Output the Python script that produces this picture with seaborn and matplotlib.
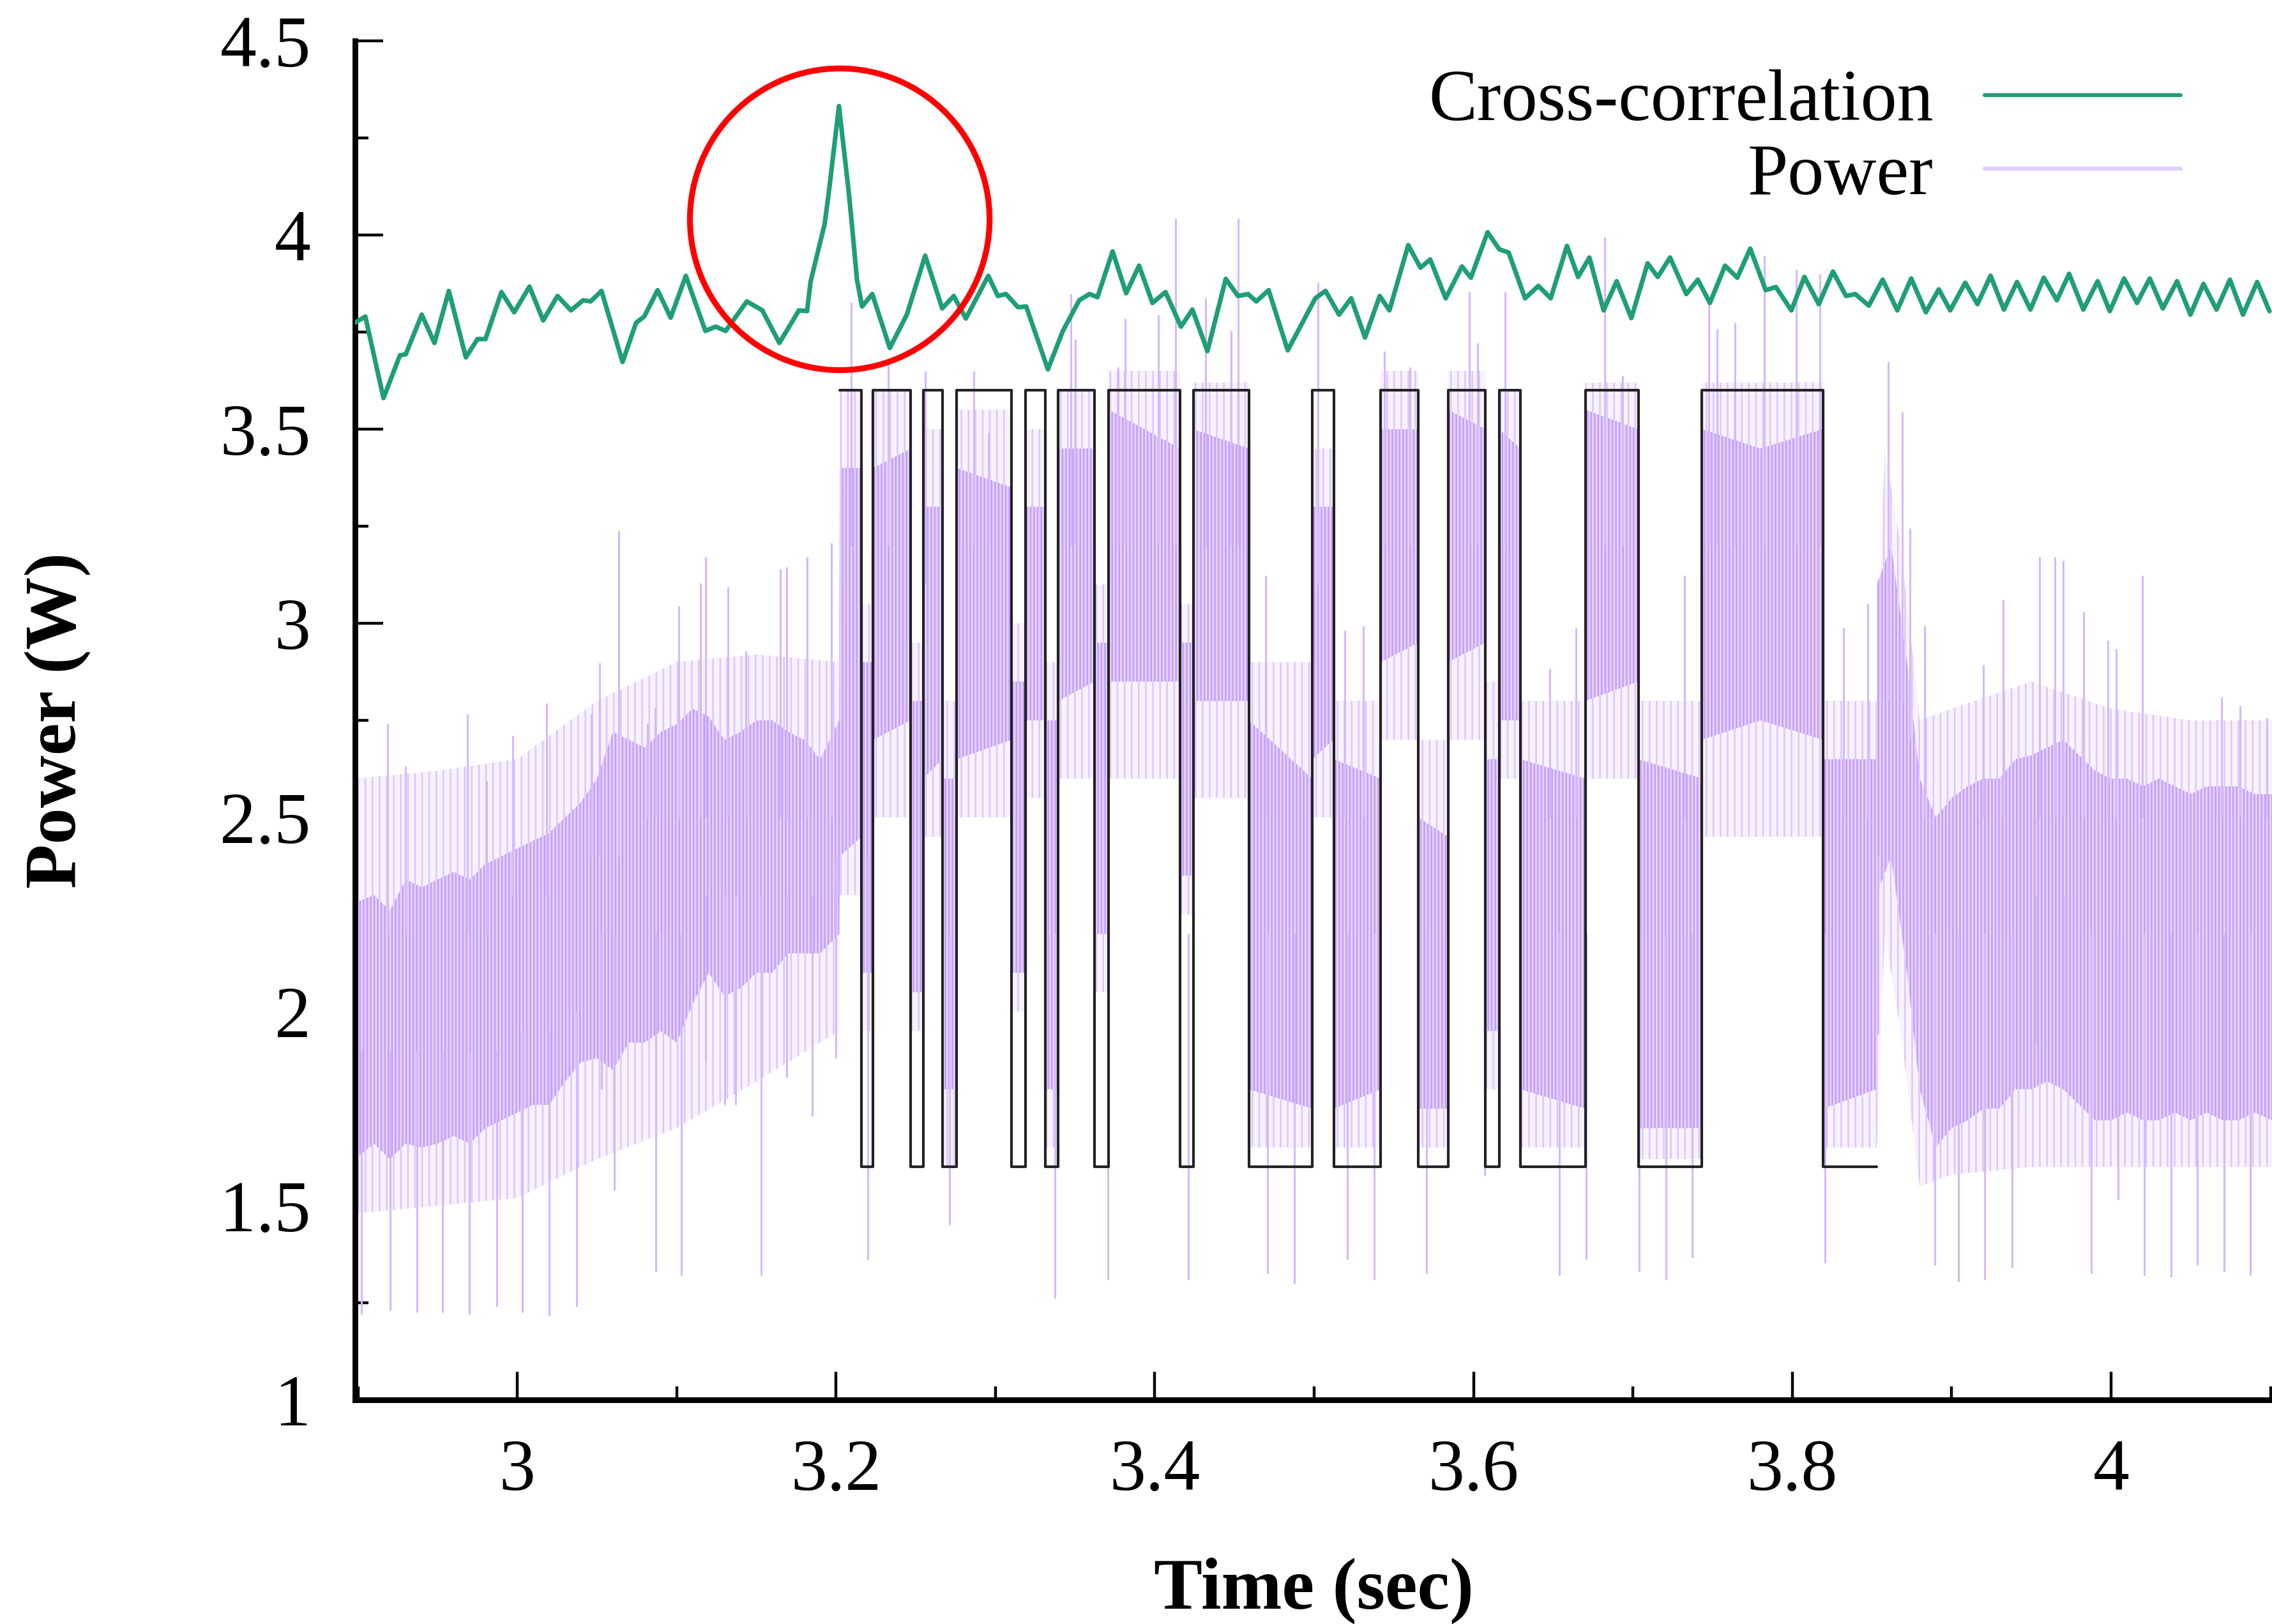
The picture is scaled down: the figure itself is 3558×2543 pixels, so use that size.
import numpy as np
import pandas as pd
import matplotlib
matplotlib.use("Agg")
import matplotlib.pyplot as plt
import seaborn as sns
from matplotlib.lines import Line2D
from matplotlib.patches import Ellipse
from matplotlib.ticker import FixedLocator, MultipleLocator

# ---------------- data ----------------
# Cross-correlation curve (time, value)
xc_t = [2.8985, 2.9046, 2.9160, 2.9263, 2.9300, 2.9400, 2.9480, 2.9570, 2.9677, 2.9750,
        2.9800, 2.9900, 2.9980, 3.0076, 3.0162, 3.0252, 3.0336, 3.0413, 3.0460, 3.0528,
        3.0660, 3.0745, 3.0796, 3.0880, 3.0962, 3.1057, 3.1180, 3.1244, 3.1307, 3.1440,
        3.1537, 3.1644, 3.1767, 3.1818, 3.1840, 3.1928, 3.1955, 3.2018, 3.2079, 3.2099,
        3.2131, 3.2163, 3.2227, 3.2337,
        3.2444, 3.2559, 3.2666, 3.2738, 3.2814, 3.2955, 3.3015, 3.3066, 3.3142, 3.3193,
        3.3329, 3.3423, 3.3526, 3.3590, 3.3640, 3.3735, 3.3820, 3.3901, 3.3985, 3.4067,
        3.4164, 3.4236, 3.4330, 3.4445, 3.4522, 3.4585, 3.4637, 3.4714, 3.4834, 3.5007,
        3.5071, 3.5156, 3.5232, 3.5319, 3.5411, 3.5472, 3.5590, 3.5667, 3.5728, 3.5825,
        3.5927, 3.5983, 3.6088, 3.6162, 3.6220, 3.6323, 3.6407, 3.6484, 3.6586, 3.6656,
        3.6727, 3.6816, 3.6898, 3.6990, 3.7092, 3.7156, 3.7233, 3.7335, 3.7407, 3.7483,
        3.7578, 3.7655, 3.7736, 3.7833, 3.7897, 3.7994, 3.8076, 3.8166, 3.8255, 3.8337,
        3.8395, 3.8480, 3.8567, 3.8659, 3.8746, 3.8838, 3.8919, 3.8991, 3.9085, 3.9162,
        3.9244, 3.9328, 3.9410, 3.9494, 3.9578, 3.9660, 3.9737, 3.9826, 3.9916, 3.9992,
        4.0082, 4.0163, 4.0243, 4.0325, 4.0414, 4.0498, 4.0580, 4.0662, 4.0746, 4.0828,
        4.0917, 4.0994]
xc_v = [3.775, 3.790, 3.580, 3.690, 3.693, 3.795, 3.722, 3.856, 3.685, 3.732,
        3.732, 3.853, 3.801, 3.867, 3.780, 3.843, 3.806, 3.832, 3.829, 3.856,
        3.673, 3.774, 3.790, 3.858, 3.787, 3.895, 3.753, 3.764, 3.753, 3.829,
        3.806, 3.722, 3.806, 3.804, 3.880, 4.028, 4.112, 4.332, 4.112, 4.028,
        3.885, 3.816, 3.848, 3.709,
        3.795, 3.947, 3.811, 3.843, 3.785, 3.895, 3.843, 3.848, 3.814, 3.816,
        3.654, 3.753, 3.832, 3.848, 3.840, 3.958, 3.850, 3.921, 3.825, 3.853,
        3.764, 3.808, 3.701, 3.887, 3.843, 3.848, 3.829, 3.858, 3.703, 3.837,
        3.856, 3.795, 3.837, 3.736, 3.843, 3.806, 3.974, 3.916, 3.937, 3.837,
        3.919, 3.890, 4.007, 3.963, 3.955, 3.837, 3.869, 3.837, 3.972, 3.892,
        3.942, 3.806, 3.881, 3.786, 3.927, 3.892, 3.942, 3.848, 3.885, 3.825,
        3.921, 3.890, 3.965, 3.858, 3.866, 3.806, 3.892, 3.822, 3.906, 3.843,
        3.848, 3.818, 3.885, 3.806, 3.888, 3.801, 3.860, 3.806, 3.877, 3.822,
        3.895, 3.808, 3.879, 3.808, 3.890, 3.832, 3.900, 3.808, 3.881, 3.804,
        3.888, 3.825, 3.888, 3.811, 3.881, 3.795, 3.874, 3.808, 3.885, 3.795,
        3.879, 3.804]

# Reference on/off signal (step edges and levels)
sq_t = [3.2023, 3.2158, 3.2232, 3.2468, 3.2546, 3.2668, 3.2756, 3.3100, 3.3190, 3.3313,
        3.3394, 3.3622, 3.3710, 3.4159, 3.4241, 3.4590, 3.4987, 3.5122, 3.5417, 3.5653,
        3.5840, 3.6074, 3.6160, 3.6293, 3.6701, 3.7034, 3.7432, 3.8193, 3.8530]
sq_v = [3.6, 1.6, 3.6, 1.6, 3.6, 1.6, 3.6, 1.6, 3.6, 1.6,
        3.6, 1.6, 3.6, 1.6, 3.6, 1.6, 3.6, 1.6, 3.6, 1.6,
        3.6, 1.6, 3.6, 1.6, 3.6, 1.6, 3.6, 1.6, 1.6]

# Power trace, sparse outer envelope (time, lower edge, upper edge)
outer_t = [2.8982, 2.950, 3.000, 3.050, 3.100, 3.150, 3.2020,
           3.2023, 3.2158, 3.2158, 3.2232, 3.2232, 3.2468, 3.2468, 3.2546, 3.2546, 3.2668,
           3.2668, 3.2756, 3.2756, 3.3100, 3.3100, 3.3190, 3.3190, 3.3313, 3.3313, 3.3394,
           3.3394, 3.3622, 3.3622, 3.3710, 3.3710, 3.4159, 3.4159, 3.4241, 3.4241, 3.4590,
           3.4590, 3.4987, 3.4987, 3.5122, 3.5122, 3.5417, 3.5417, 3.5653, 3.5653, 3.5840,
           3.5840, 3.6074, 3.6074, 3.6160, 3.6160, 3.6293, 3.6293, 3.6701, 3.6701, 3.7034,
           3.7034, 3.7432, 3.7432, 3.8193, 3.8193, 3.8530,
           3.8580, 3.8680, 3.8800, 3.9000, 3.9500, 4.0000, 4.0500, 4.1010]
outer_lo = [1.48, 1.50, 1.52, 1.62, 1.70, 1.82, 1.95,
            2.30, 2.30, 1.95, 1.95, 2.50, 2.50, 1.95, 1.95, 2.45, 2.45,
            1.60, 1.60, 2.50, 2.50, 2.00, 2.00, 2.55, 2.55, 1.65, 1.65,
            2.60, 2.60, 2.05, 2.05, 2.60, 2.60, 2.25, 2.25, 2.55, 2.55,
            1.65, 1.65, 2.50, 2.50, 1.65, 1.65, 2.70, 2.70, 1.65, 1.65,
            2.70, 2.70, 1.80, 1.80, 2.60, 2.60, 1.65, 1.65, 2.60, 2.60,
            1.62, 1.62, 2.45, 2.45, 1.65, 1.65,
            2.20, 1.95, 1.55, 1.58, 1.60, 1.60, 1.60, 1.60]
outer_hi = [2.60, 2.62, 2.65, 2.80, 2.90, 2.92, 2.90,
            3.60, 3.60, 3.05, 3.05, 3.60, 3.60, 2.95, 2.95, 3.50, 3.50,
            2.80, 2.80, 3.55, 3.55, 3.00, 3.00, 3.50, 3.50, 2.90, 2.90,
            3.60, 3.60, 3.10, 3.10, 3.65, 3.65, 3.05, 3.05, 3.62, 3.62,
            2.90, 2.90, 3.45, 3.45, 2.80, 2.80, 3.65, 3.65, 2.70, 2.70,
            3.65, 3.65, 2.85, 2.85, 3.60, 3.60, 2.80, 2.80, 3.62, 3.62,
            2.80, 2.80, 3.62, 3.62, 2.80, 2.80,
            3.45, 3.20, 2.75, 2.78, 2.85, 2.78, 2.75, 2.75]

# Power trace, dense inner core (time, lower edge, upper edge)
inner_t = [2.8982, 2.910, 2.920, 2.930, 2.940, 2.950, 2.960, 2.970, 2.980, 2.990,
           3.000, 3.010, 3.020, 3.030, 3.040, 3.050, 3.060, 3.070, 3.080, 3.090,
           3.100, 3.110, 3.120, 3.130, 3.140, 3.150, 3.160, 3.170, 3.180, 3.190,
           3.2020,
           3.2023, 3.2158, 3.2158, 3.2232, 3.2232, 3.2468, 3.2468, 3.2546, 3.2546, 3.2668,
           3.2668, 3.2756, 3.2756, 3.3100, 3.3100, 3.3190, 3.3190, 3.3313, 3.3313, 3.3394,
           3.3394, 3.3622, 3.3622, 3.3710, 3.3710, 3.4159, 3.4159, 3.4241, 3.4241, 3.4590,
           3.4590, 3.4987, 3.4987, 3.5122, 3.5122, 3.5417, 3.5417, 3.5653, 3.5653, 3.5840,
           3.5840, 3.6074, 3.6074, 3.6160, 3.6160, 3.6293, 3.6293, 3.6701, 3.6701, 3.7034,
           3.7034, 3.7432, 3.7432, 3.7800, 3.8193, 3.8193, 3.8530, 3.8530, 3.8620, 3.8720,
           3.8800,
           3.890, 3.900, 3.910, 3.920, 3.930, 3.940, 3.950, 3.960, 3.970, 3.980,
           3.990, 4.000, 4.010, 4.020, 4.030, 4.040, 4.050, 4.060, 4.070, 4.080,
           4.090, 4.101]
inner_lo = [1.62, 1.66, 1.62, 1.66, 1.65, 1.66, 1.68, 1.66, 1.70, 1.72,
            1.74, 1.76, 1.76, 1.82, 1.87, 1.88, 1.85, 1.92, 1.92, 1.95,
            1.92, 2.02, 2.10, 2.04, 2.06, 2.10, 2.10, 2.15, 2.15, 2.15,
            2.20,
            2.40, 2.45, 2.10, 2.10, 2.70, 2.75, 2.05, 2.05, 2.60, 2.65,
            1.80, 1.80, 2.65, 2.70, 2.10, 2.10, 2.75, 2.75, 1.80, 1.80,
            2.80, 2.85, 2.20, 2.20, 2.85, 2.85, 2.35, 2.35, 2.80, 2.80,
            1.80, 1.75, 2.65, 2.70, 1.75, 1.80, 2.90, 2.95, 1.75, 1.75,
            2.90, 2.95, 1.95, 1.95, 2.75, 2.75, 1.80, 1.75, 2.80, 2.85,
            1.70, 1.70, 2.70, 2.75, 2.70, 1.75, 1.80, 2.30, 2.40, 2.10,
            1.80,
            1.65, 1.70, 1.72, 1.75, 1.75, 1.80, 1.80, 1.82, 1.80, 1.76,
            1.72, 1.72, 1.74, 1.72, 1.72, 1.74, 1.72, 1.74, 1.72, 1.72,
            1.74, 1.72]
inner_hi = [2.28, 2.30, 2.26, 2.34, 2.32, 2.34, 2.36, 2.34, 2.38, 2.40,
            2.42, 2.44, 2.46, 2.50, 2.54, 2.60, 2.72, 2.70, 2.68, 2.72,
            2.74, 2.78, 2.76, 2.70, 2.72, 2.75, 2.75, 2.72, 2.70, 2.65,
            2.75,
            3.40, 3.40, 2.90, 2.90, 3.40, 3.45, 2.80, 2.80, 3.30, 3.30,
            2.60, 2.60, 3.40, 3.35, 2.85, 2.85, 3.30, 3.30, 2.75, 2.75,
            3.45, 3.45, 2.95, 2.95, 3.55, 3.45, 2.95, 2.95, 3.50, 3.45,
            2.75, 2.60, 3.30, 3.30, 2.65, 2.60, 3.50, 3.50, 2.50, 2.45,
            3.55, 3.50, 2.65, 2.65, 3.50, 3.45, 2.65, 2.60, 3.55, 3.50,
            2.65, 2.60, 3.50, 3.45, 3.50, 2.65, 2.65, 3.10, 3.20, 2.90,
            2.60,
            2.50, 2.55, 2.58, 2.60, 2.60, 2.65, 2.66, 2.68, 2.70, 2.66,
            2.62, 2.60, 2.60, 2.58, 2.60, 2.58, 2.56, 2.58, 2.58, 2.58,
            2.56, 2.56]

# Power trace: isolated spikes (time, bottom, top)
spike_t = [2.902, 2.920, 2.937, 2.953, 2.970, 2.987, 3.003, 3.020, 3.037, 3.053,
           3.061, 3.087, 3.103, 3.118, 3.130, 3.137, 3.153, 3.169, 3.185, 3.200,
           3.220, 3.271, 3.3372, 3.3704, 3.421, 3.4706, 3.4875, 3.5207, 3.5378, 3.5705,
           3.6068, 3.654, 3.6707, 3.7041, 3.7207, 3.7373, 3.8204, 3.8536, 3.8894, 3.9042,
           3.9205, 3.9379, 3.9533, 3.9711, 3.9877, 4.0043, 4.021, 4.0376, 4.0542, 4.0708,
           4.0874,
           2.9186, 2.930, 2.9685, 2.9805, 2.9973, 3.0183, 3.0464, 3.0515, 3.0638, 3.0817,
           3.0865, 3.1013, 3.1149, 3.118, 3.132, 3.1435, 3.1652, 3.169, 3.1818, 3.1971,
           3.2094, 3.2329, 3.2559, 3.2866, 3.2955, 3.3474, 3.350, 3.3768, 3.3812, 3.4024,
           3.4131, 3.4318, 3.4479, 3.4522, 3.4696, 3.5025, 3.5191, 3.5309, 3.5442, 3.560,
           3.5973, 3.6024, 3.6196, 3.6477, 3.6643, 3.6822, 3.6936, 3.7322, 3.7476, 3.7527,
           3.7642, 3.7826, 3.8025, 3.8173, 3.832, 3.8472, 3.860, 3.8689, 3.874, 3.883,
           3.920, 3.9323, 3.9553, 3.9647, 3.9699, 3.9826, 3.998, 4.0031, 4.0197, 4.0695,
           4.081, 4.0976]
spike_lo = [1.22, 1.23, 1.226, 1.226, 1.22, 1.24, 1.226, 1.215, 1.24, 1.80,
            1.54, 1.33, 1.32, 1.87, 1.76, 1.76, 1.32, 1.83, 1.73, 1.88,
            1.36, 1.45, 1.262, 1.31, 1.31, 1.325, 1.30, 1.362, 1.31, 1.325,
            1.577, 1.32, 1.362, 1.33, 1.31, 1.367, 1.352, 1.94, 1.347, 1.305,
            1.31, 1.341, 1.92, 1.803, 1.325, 1.514, 1.32, 1.315, 1.347, 1.33,
            1.32,
            2.2, 2.2, 2.2, 2.2, 2.3, 2.3, 2.4, 2.4, 2.4, 2.5,
            2.5, 2.5, 2.5, 2.5, 2.5, 2.5, 2.5, 2.5, 2.5, 2.5,
            3.2, 3.2, 3.1, 3.2, 3.2, 3.2, 3.2, 3.2, 3.2, 3.2,
            3.2, 3.2, 3.2, 3.2, 2.5, 3.1, 2.5, 2.5, 3.2, 3.2,
            3.2, 3.2, 3.2, 2.5, 2.5, 3.2, 3.2, 2.5, 3.2, 3.2,
            3.2, 3.2, 3.2, 3.2, 2.5, 2.5, 2.8, 2.8, 2.7, 2.5,
            2.5, 2.5, 2.5, 2.5, 2.5, 2.5, 2.5, 2.5, 2.5, 2.5,
            2.5, 2.5]
spike_hi = [1.9, 1.9, 1.9, 1.9, 1.9, 1.9, 1.95, 1.95, 2.0, 2.2,
            2.2, 2.2, 2.2, 2.3, 2.3, 2.3, 2.3, 2.3, 2.3, 2.4,
            2.4, 2.2, 2.2, 2.2, 2.2, 2.2, 2.2, 2.2, 2.2, 2.2,
            2.2, 2.2, 2.2, 2.2, 2.2, 2.2, 2.2, 2.4, 2.2, 2.2,
            2.2, 2.2, 2.3, 2.3, 2.2, 2.2, 2.2, 2.2, 2.2, 2.2,
            2.2,
            2.741, 2.631, 2.767, 2.594, 2.71, 2.794, 2.767, 2.898, 3.239, 2.741,
            2.783, 3.045, 3.103, 3.171, 3.093, 2.93, 3.14, 3.145, 3.171, 3.208,
            3.827, 3.68, 3.649, 3.649, 3.49, 3.848, 3.732, 3.659, 3.785, 3.795,
            4.042, 3.837, 3.753, 4.042, 3.124, 3.879, 2.982, 2.993, 3.701, 3.659,
            3.853, 3.722, 3.853, 2.883, 2.988, 3.995, 3.638, 3.124, 3.827, 3.759,
            3.774, 3.948, 3.911, 3.90, 2.988, 3.051, 3.675, 3.544, 3.245, 2.993,
            2.893, 3.061, 3.171, 3.171, 3.161, 3.03, 2.956, 2.935, 3.124, 2.809,
            2.788, 2.757]

# Axis ticks
x_ticks = [3.0, 3.2, 3.4, 3.6, 3.8, 4.0]
x_tick_labels = ["3", "3.2", "3.4", "3.6", "3.8", "4"]
y_ticks = [1.0, 1.5, 2.0, 2.5, 3.0, 3.5, 4.0, 4.5]
y_tick_labels = ["1", "1.5", "2", "2.5", "3", "3.5", "4", "4.5"]

# Highlight circle around the correlation peak (center x, center y)
highlight_center = (3.2023, 4.0405)

# ---------------- styling ----------------
GREEN = "#1f9e78"
LAV_OUTER_FACE = "#f7f2fe"
LAV_OUTER_LINE = "#dcc6fc"
LAV_CORE_FACE = "#e4d3fd"
LAV_CORE_LINE = "#c59cf8"
LAV_SPIKE = "#d6b8fb"
LAV_LEGEND = "#e0ccfd"
FS = 41

sns.set_theme(style="ticks")
plt.rcParams["font.family"] = ["Liberation Serif", "DejaVu Serif"]
plt.rcParams["text.color"] = "black"
plt.rcParams["axes.labelcolor"] = "black"
plt.rcParams["xtick.color"] = "black"
plt.rcParams["ytick.color"] = "black"
plt.rcParams["hatch.linewidth"] = 0.9

fig, ax = plt.subplots(figsize=(17.79, 12.715), dpi=200)
fig.subplots_adjust(left=0.1563, right=1.0, bottom=0.13803, top=0.97483)

# power trace: sparse light strokes, dense darker strokes, isolated spikes
plt.rcParams["hatch.color"] = LAV_OUTER_LINE
ax.fill_between(outer_t, outer_lo, outer_hi, facecolor=LAV_OUTER_FACE,
                edgecolor=LAV_OUTER_LINE, hatch="|||", lw=0, zorder=1)
plt.rcParams["hatch.color"] = LAV_CORE_LINE
ax.fill_between(inner_t, inner_lo, inner_hi, facecolor=LAV_CORE_FACE,
                edgecolor=LAV_CORE_LINE, hatch="||||||", lw=0, zorder=1.1)
ax.vlines(spike_t, spike_lo, spike_hi, color=LAV_SPIKE, lw=1.1, zorder=1.2)

# on/off signal
sq_df = pd.DataFrame({"t": sq_t, "v": sq_v})
sns.lineplot(data=sq_df, x="t", y="v", ax=ax, color="#222222", lw=1.5,
             drawstyle="steps-post", estimator=None, sort=False, legend=False,
             zorder=2)

# cross-correlation
xc_df = pd.DataFrame({"t": xc_t, "v": xc_v})
sns.lineplot(data=xc_df, x="t", y="v", ax=ax, color=GREEN, lw=2.6,
             estimator=None, sort=False, legend=False, zorder=3,
             solid_joinstyle="round", solid_capstyle="round")

# highlight circle
ax.add_patch(Ellipse(highlight_center, width=0.188, height=0.777, fill=False,
                     edgecolor="#ff0000", lw=3.3, zorder=4, clip_on=False))

# axes
ax.set_xlim(2.8982, 4.101)
ax.set_ylim(1.0, 4.5)
ax.xaxis.set_major_locator(FixedLocator(x_ticks))
ax.set_xticklabels(x_tick_labels)
ax.xaxis.set_minor_locator(MultipleLocator(0.1))
ax.yaxis.set_major_locator(FixedLocator(y_ticks))
ax.set_yticklabels(y_tick_labels)
ax.yaxis.set_minor_locator(MultipleLocator(0.25))

sns.despine(ax=ax)
for s in ("left", "bottom"):
    ax.spines[s].set_linewidth(3.2)
    ax.spines[s].set_color("black")

ax.tick_params(which="major", direction="in", length=16, width=1.6, colors="black",
               labelsize=FS)
ax.tick_params(axis="x", which="major", pad=22)
ax.tick_params(axis="y", which="major", pad=25)
ax.tick_params(which="minor", direction="in", length=7.6, width=1.6, colors="black")

ax.set_xlabel("Time (sec)", fontsize=FS, fontweight="bold", color="black")
ax.set_ylabel("Power (W)", fontsize=FS, fontweight="bold", color="black")
ax.xaxis.set_label_coords(0.5, -0.116)
ax.yaxis.set_label_coords(-0.138, 0.5)

handles = [Line2D([], [], color=GREEN, lw=2.2), Line2D([], [], color=LAV_LEGEND, lw=2.2)]
leg = ax.legend(handles, ["Cross-correlation", "Power"], loc="upper right",
                bbox_to_anchor=(0.9524, 0.979), markerfirst=False, frameon=False,
                fontsize=FS, handlelength=2.7, handletextpad=0.7, labelspacing=0.1,
                borderaxespad=0, borderpad=0)
for txt in leg.get_texts():
    txt.set_color("black")

fig.savefig("out.png", dpi=200)
